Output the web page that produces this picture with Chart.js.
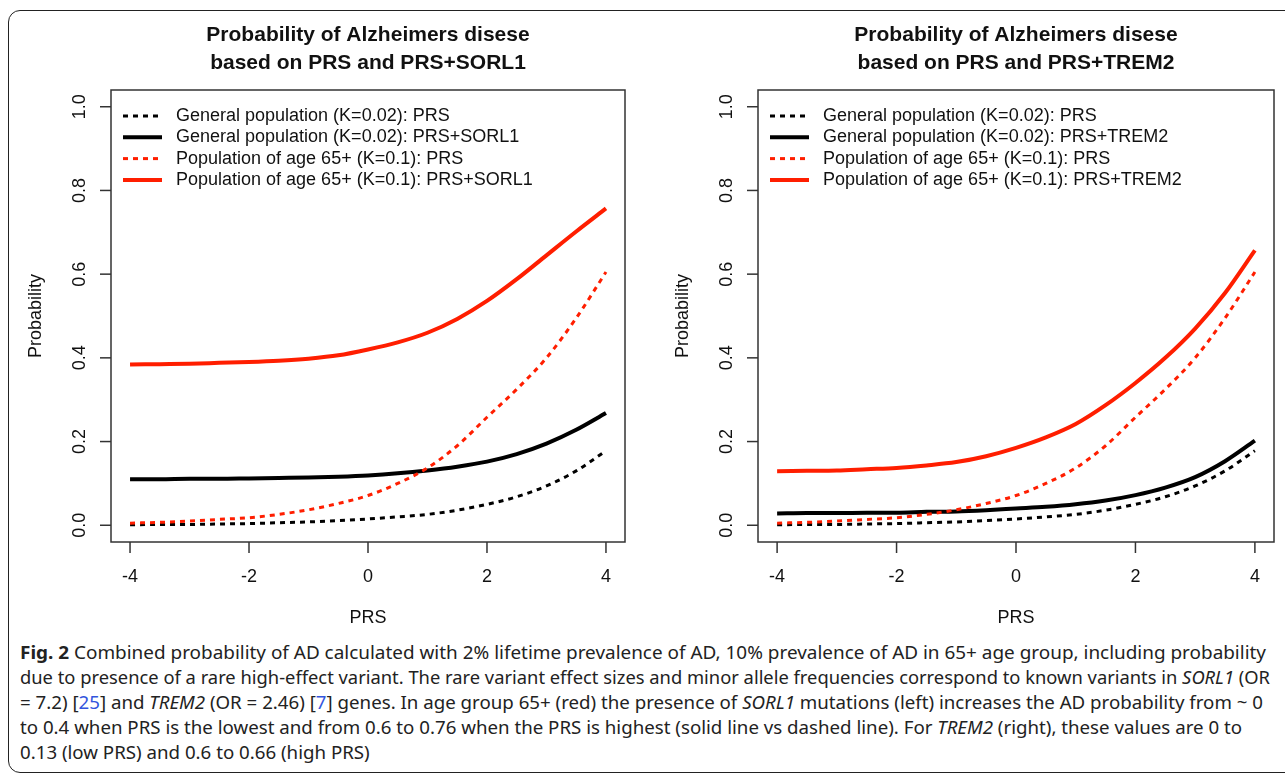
<!DOCTYPE html>
<html>
<head>
<meta charset="utf-8">
<title>Fig. 2</title>
<script src="https://cdn.jsdelivr.net/npm/chart.js@4.4.0/dist/chart.umd.min.js"></script>
<style>
  body { margin: 0; background: #fff; }
  #page { position: relative; width: 1285px; height: 776px; overflow: hidden; background: #fff; }
  #frame { position: absolute; left: 8px; top: 10px; width: 1310px; height: 763px; border: 1.5px solid #222;
           border-radius: 12px; box-sizing: border-box; }
  canvas { position: absolute; top: 0; }
  #caption { position: absolute; left: 20px; top: 640px; font-family: "Noto Sans", "Open Sans", sans-serif;
             font-size: 18px; line-height: 25px; color: #222; white-space: nowrap; }
  #caption span { display: inline-block; transform-origin: 0 0; }
  #caption a { color: #3355dd; text-decoration: none; }
</style>

<script>
// PRS values along the x axis
const prs = [-4, -3.5, -3, -2.5, -2, -1.5, -1, -0.5, 0, 0.5, 1, 1.5, 2, 2.5, 3, 3.5, 4];

// probabilities
const genPRS   = [0.001, 0.002, 0.002, 0.003, 0.004, 0.006, 0.008, 0.011, 0.015, 0.020, 0.026, 0.036, 0.050, 0.068, 0.094, 0.130, 0.178];
const oldPRS   = [0.005, 0.007, 0.010, 0.014, 0.018, 0.026, 0.037, 0.052, 0.071, 0.100, 0.137, 0.190, 0.258, 0.325, 0.400, 0.495, 0.605];
const genSORL1 = [0.110, 0.110, 0.111, 0.111, 0.112, 0.113, 0.114, 0.116, 0.119, 0.124, 0.131, 0.140, 0.152, 0.170, 0.195, 0.228, 0.268];
const oldSORL1 = [0.384, 0.385, 0.386, 0.388, 0.390, 0.393, 0.398, 0.406, 0.420, 0.437, 0.460, 0.493, 0.536, 0.588, 0.645, 0.702, 0.757];
const genTREM2 = [0.028, 0.029, 0.029, 0.030, 0.030, 0.032, 0.033, 0.036, 0.040, 0.044, 0.050, 0.059, 0.072, 0.090, 0.115, 0.153, 0.202];
const oldTREM2 = [0.129, 0.130, 0.131, 0.134, 0.137, 0.143, 0.151, 0.165, 0.185, 0.210, 0.242, 0.287, 0.340, 0.400, 0.470, 0.555, 0.657];

const xTicks = [-4, -2, 0, 2, 4];
const yTicks = [0, 0.2, 0.4, 0.6, 0.8, 1.0];
const yTickLabels = ['0.0', '0.2', '0.4', '0.6', '0.8', '1.0'];

// where each caption line ends in the figure (last line follows the one above)
const captionEnds = [1266, 1270, 1263, 1242];

const RED = '#ff1e00';
const FONT = '"Liberation Sans", Arial, sans-serif';

function pts(ys) {
  return prs.map((x, i) => ({ x: x, y: ys[i] }));
}

// R style box, ticks, tick labels, axis titles and legend
const rPlot = {
  id: 'rPlot',
  afterDraw(chart) {
    const ctx = chart.ctx, a = chart.chartArea;
    const xs = chart.scales.x, ys = chart.scales.y;
    ctx.save();
    ctx.strokeStyle = '#333';
    ctx.lineWidth = 1.5;
    ctx.strokeRect(a.left, a.top, a.right - a.left, a.bottom - a.top);

    ctx.fillStyle = '#111';
    ctx.font = '18px ' + FONT;
    ctx.textAlign = 'center';
    ctx.textBaseline = 'middle';

    xTicks.forEach(v => {
      const px = xs.getPixelForValue(v);
      ctx.beginPath(); ctx.moveTo(px, a.bottom); ctx.lineTo(px, a.bottom + 11); ctx.stroke();
      ctx.fillText(String(v), px, a.bottom + 35);
    });
    ctx.fillText('PRS', (a.left + a.right) / 2, a.bottom + 76);

    yTicks.forEach((v, i) => {
      const py = ys.getPixelForValue(v);
      ctx.beginPath(); ctx.moveTo(a.left, py); ctx.lineTo(a.left - 11, py); ctx.stroke();
      ctx.save();
      ctx.translate(a.left - 31, py);
      ctx.rotate(-Math.PI / 2);
      ctx.fillText(yTickLabels[i], 0, 0);
      ctx.restore();
    });
    ctx.save();
    ctx.translate(a.left - 75, (a.top + a.bottom) / 2);
    ctx.rotate(-Math.PI / 2);
    ctx.fillText('Probability', 0, 0);
    ctx.restore();

    // legend
    ctx.textAlign = 'left';
    chart.data.datasets.forEach((ds, i) => {
      const ly = a.top + 26 + i * 21.3;
      ctx.strokeStyle = ds.borderColor;
      ctx.lineWidth = ds.borderWidth;
      ctx.setLineDash(ds.borderDash || []);
      ctx.beginPath(); ctx.moveTo(a.left + 12, ly); ctx.lineTo(a.left + 51, ly); ctx.stroke();
      ctx.setLineDash([]);
      ctx.fillText(ds.label, a.left + 65, ly);
    });
    ctx.restore();
  }
};

function makeChart(id, gene, genGene, oldGene, padLeft, padRight) {
  return new Chart(document.getElementById(id), {
    type: 'line',
    data: {
      datasets: [
        { label: 'General population (K=0.02): PRS', data: pts(genPRS), borderColor: '#000', borderWidth: 3, borderDash: [5, 5], order: 4 },
        { label: 'General population (K=0.02): PRS+' + gene, data: pts(genGene), borderColor: '#000', borderWidth: 4, order: 3 },
        { label: 'Population of age 65+ (K=0.1): PRS', data: pts(oldPRS), borderColor: RED, borderWidth: 3, borderDash: [5, 5], order: 2 },
        { label: 'Population of age 65+ (K=0.1): PRS+' + gene, data: pts(oldGene), borderColor: RED, borderWidth: 4, order: 1 }
      ]
    },
    options: {
      responsive: false,
      animation: false,
      devicePixelRatio: 1,
      elements: { point: { radius: 0 }, line: { cubicInterpolationMode: 'monotone', fill: false } },
      layout: { padding: { left: padLeft, right: padRight, top: 0, bottom: 98 } },
      scales: {
        x: { type: 'linear', min: -4.32, max: 4.32, display: false },
        y: { min: -0.04, max: 1.04, display: false }
      },
      plugins: {
        legend: { display: false },
        tooltip: { enabled: false },
        title: {
          display: true,
          text: ['Probability of Alzheimers disese', 'based on PRS and PRS+' + gene],
          color: '#111',
          font: { family: FONT, size: 21, weight: 'bold', lineHeight: 1.3 },
          padding: { top: 22, bottom: 13.4 }
        }
      }
    },
    plugins: [rPlot]
  });
}

function start() {
  makeChart('leftChart', 'SORL1', genSORL1, oldSORL1, 111, 15);
  makeChart('rightChart', 'TREM2', genTREM2, oldTREM2, 118, 11);

  // squeeze each caption line so it ends where it does in the figure
  const spans = document.querySelectorAll('#caption span');
  let s = 1;
  spans.forEach((sp, i) => {
    const w = sp.getBoundingClientRect().width;
    if (i < captionEnds.length) s = (captionEnds[i] - 20) / w;
    sp.style.transform = 'scaleX(' + s + ')';
  });
}
</script>
</head>
<body onload="start()">
<div id="page">
  <div id="frame"></div>
  <canvas id="leftChart" width="640" height="640" style="left:0px"></canvas>
  <canvas id="rightChart" width="645" height="640" style="left:640px"></canvas>
  <div id="caption">
    <div><span><b>Fig. 2</b> Combined probability of AD calculated with 2% lifetime prevalence of AD, 10% prevalence of AD in 65+ age group, including probability</span></div>
    <div><span>due to presence of a rare high-effect variant. The rare variant effect sizes and minor allele frequencies correspond to known variants in <i>SORL1</i> (OR</span></div>
    <div><span>= 7.2) [<a>25</a>] and <i>TREM2</i> (OR = 2.46) [<a>7</a>] genes. In age group 65+ (red) the presence of <i>SORL1</i> mutations (left) increases the AD probability from ~ 0</span></div>
    <div><span>to 0.4 when PRS is the lowest and from 0.6 to 0.76 when the PRS is highest (solid line vs dashed line). For <i>TREM2</i> (right), these values are 0 to</span></div>
    <div><span>0.13 (low PRS) and 0.6 to 0.66 (high PRS)</span></div>
  </div>
</div>
</body>
</html>
